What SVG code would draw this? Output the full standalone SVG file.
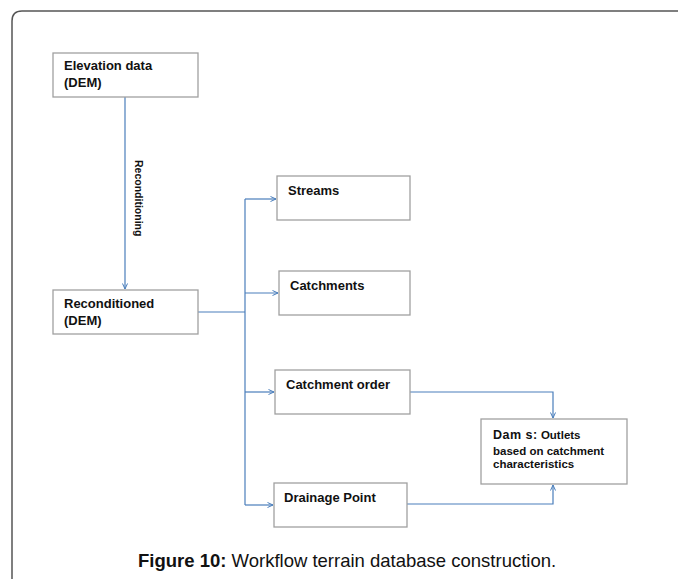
<svg xmlns="http://www.w3.org/2000/svg" width="678" height="579" viewBox="0 0 678 579">
<style>
.box{fill:#fff;stroke:#a0a0a0;stroke-width:1.3}
.t{font-family:"Liberation Sans",Arial,sans-serif;font-weight:bold;font-size:13px;fill:#111}
.c{fill:none;stroke:#4a7ebb;stroke-width:1.2}
.cap{font-family:"Liberation Sans",Arial,sans-serif;font-size:18.5px;fill:#111}
</style>
<defs>
<marker id="ah" markerWidth="8" markerHeight="8" refX="6" refY="3" orient="auto" markerUnits="userSpaceOnUse">
<path d="M0.5,0.5 L6,3 L0.5,5.5" fill="none" stroke="#4a7ebb" stroke-width="1"/>
</marker>
</defs>
<rect width="678" height="579" fill="#fff"/>
<path d="M12,579 L12,21 Q12,11 22,11 L678,11" fill="none" stroke="#555" stroke-width="1.5"/>
<g id="connectors">
<path class="c" d="M125,97 L125,289" marker-end="url(#ah)"/>
<path class="c" d="M198,312 L245,312"/>
<path class="c" d="M245,199 L245,505"/>
<path class="c" d="M245,199 L276,199" marker-end="url(#ah)"/>
<path class="c" d="M245,293 L278,293" marker-end="url(#ah)"/>
<path class="c" d="M245,392 L274,392" marker-end="url(#ah)"/>
<path class="c" d="M245,505 L273,505" marker-end="url(#ah)"/>
<path class="c" d="M410,392 L553,392 L553,418" marker-end="url(#ah)"/>
<path class="c" d="M407,504 L553,504 L553,485" marker-end="url(#ah)"/>
<text class="t" style="font-size:10.5px" transform="translate(135,160) rotate(90)">Reconditioning</text>
</g>
<g id="elevation">
<rect class="box" x="53" y="53" width="145" height="44"/>
<text class="t" x="64" y="70">Elevation data</text>
<text class="t" x="64" y="87">(DEM)</text>
</g>
<g id="reconditioned">
<rect class="box" x="53" y="290" width="145" height="44"/>
<text class="t" x="64" y="308">Reconditioned</text>
<text class="t" x="64" y="325">(DEM)</text>
</g>
<g id="streams">
<rect class="box" x="277" y="176" width="133" height="44"/>
<text class="t" x="288" y="195">Streams</text>
</g>
<g id="catchments">
<rect class="box" x="279" y="271" width="131" height="44"/>
<text class="t" x="290" y="290">Catchments</text>
</g>
<g id="catchment-order">
<rect class="box" x="275" y="370" width="135" height="44"/>
<text class="t" x="286" y="389">Catchment order</text>
</g>
<g id="drainage">
<rect class="box" x="274" y="483" width="133" height="44"/>
<text class="t" x="284" y="502">Drainage Point</text>
</g>
<g id="dams">
<rect class="box" x="481" y="419" width="146" height="65"/>
<text class="t" x="493" y="439"><tspan style="font-size:12.5px;letter-spacing:0.5px">Dam s:</tspan><tspan style="font-size:11.5px"> Outlets</tspan></text>
<text class="t" style="font-size:11.5px" x="493" y="455">based on catchment</text>
<text class="t" style="font-size:11.5px" x="493" y="468">characteristics</text>
</g>
<text class="cap" x="138" y="567"><tspan font-weight="bold">Figure 10:</tspan> Workflow terrain database construction.</text>
</svg>
